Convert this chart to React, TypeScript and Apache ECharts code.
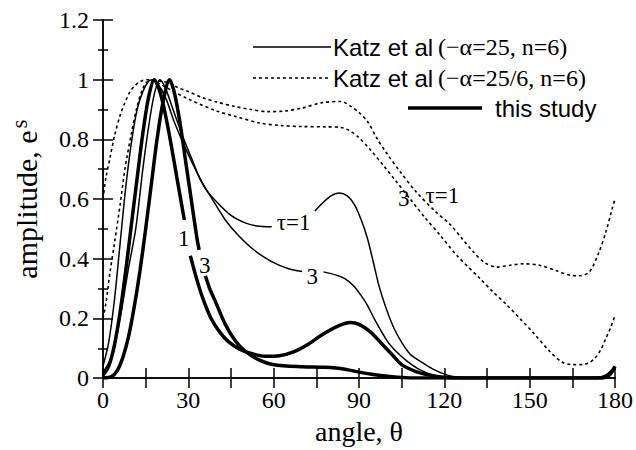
import React, { useEffect, useRef } from 'react';
import * as echarts from 'echarts';

const SERIF = '"Liberation Serif", "Times New Roman", serif';
const SANS = '"Liberation Sans", Arial, sans-serif';

// axis tick labels
const xTickLabels = [0, 30, 60, 90, 120, 150, 180];
const yTickLabels = ['0', '0.2', '0.4', '0.6', '0.8', '1', '1.2'];

// Katz et al (−α=25, n=6), τ=1 (thin solid)
const katzSolidTau1: (number | null)[][] = [
  [0, 0.04], [2, 0.12], [4, 0.26], [6, 0.45], [8, 0.64], [10, 0.79], [12, 0.9], [14, 0.96],
  [16, 0.995], [17.5, 1.0], [19, 0.99], [22, 0.94], [25, 0.86], [29, 0.77], [33, 0.69],
  [36, 0.635], [40, 0.59], [45, 0.545], [50, 0.52], [54, 0.51], [59.3, 0.507], [66, null],
  [74.5, 0.56], [77, 0.585], [80, 0.61], [83, 0.62], [86, 0.61], [88.5, 0.58], [91, 0.525],
  [93, 0.467], [95, 0.39], [97, 0.31], [99.5, 0.235], [102.3, 0.167], [105, 0.12], [108, 0.08],
  [111.6, 0.056], [116, 0.03], [121, 0.01], [126, 0.002], [130, 0], [180, 0],
];

// Katz et al (−α=25, n=6), τ=3 (thin solid)
const katzSolidTau3: (number | null)[][] = [
  [0, 0.02], [3, 0.07], [6, 0.2], [9, 0.37], [11.5, 0.5], [14, 0.7], [16, 0.84], [18, 0.95],
  [20, 1.0], [22, 0.97], [25, 0.89], [28, 0.81], [31, 0.74], [34, 0.67], [38.4, 0.6],
  [43, 0.53], [47.7, 0.477], [53, 0.43], [59.3, 0.39], [65, 0.367], [70, 0.357], [74, null],
  [77.5, 0.356], [82, 0.345], [85, 0.333], [88, 0.31], [90.7, 0.277], [93, 0.243], [95.3, 0.2],
  [100, 0.123], [103, 0.09], [107, 0.056], [111, 0.03], [116, 0.01], [120, 0.003], [125, 0], [180, 0],
];

// Katz et al (−α=25/6, n=6), τ=1 (dotted)
const katzDotTau1: number[][] = [
  [0, 0.6], [1, 0.67], [2.5, 0.74], [4, 0.81], [6, 0.88], [7.6, 0.92], [9.5, 0.96], [11.2, 0.98],
  [13.3, 0.995], [16, 1.0], [20, 0.995], [23, 0.99], [26, 0.975], [30, 0.96], [35, 0.94],
  [40, 0.925], [46.5, 0.91], [52, 0.9], [58, 0.893], [64, 0.895], [70, 0.905], [77, 0.923],
  [83.7, 0.927], [87.2, 0.91], [90, 0.89], [93, 0.86], [96.5, 0.8], [100, 0.75], [104.6, 0.69],
  [110, 0.625], [117, 0.557], [122, 0.515], [126, 0.47], [130, 0.425], [134, 0.388],
  [138.4, 0.372], [143, 0.378], [147.7, 0.383], [153.5, 0.378], [159.4, 0.36], [164, 0.345],
  [167.4, 0.343], [171, 0.356], [174.4, 0.423], [176.8, 0.49], [179, 0.567], [180, 0.6],
];

// Katz et al (−α=25/6, n=6), τ=3 (dotted)
const katzDotTau3: number[][] = [
  [0, 0.2], [1, 0.25], [2.4, 0.35], [4, 0.45], [6, 0.58], [7.7, 0.7], [10, 0.82], [12, 0.91],
  [14, 0.97], [16, 0.995], [18, 0.995], [20, 0.985], [23, 0.97], [30, 0.935], [40, 0.895],
  [46.5, 0.877], [55, 0.855], [63, 0.846], [70, 0.843], [78, 0.842], [83.7, 0.84], [86.5, 0.83],
  [89.5, 0.81], [94, 0.765], [98.8, 0.71], [103, 0.66], [108, 0.6], [113, 0.54], [118.6, 0.478],
  [124.5, 0.41], [132.6, 0.333], [137, 0.29], [142, 0.245], [147, 0.195], [151, 0.155],
  [157, 0.09], [161.5, 0.053], [165, 0.045], [168.5, 0.045], [171, 0.052], [173, 0.067],
  [175, 0.095], [176.8, 0.133], [178.5, 0.17], [180, 0.21],
];

// this study, τ=1 (thick)
const studyTau1: (number | null)[][] = [
  [0, 0.01], [2, 0.04], [4, 0.11], [6, 0.22], [8, 0.36], [9.8, 0.5], [12, 0.67], [14, 0.82],
  [16, 0.94], [18, 1.0], [20, 0.96], [22, 0.88], [24, 0.78], [26, 0.67], [28.6, 0.53], [29.6, null],
  [30.7, 0.41], [33, 0.33], [35, 0.27], [38, 0.2], [41, 0.155], [44, 0.123], [48, 0.097],
  [53, 0.08], [57, 0.073], [62, 0.075], [67, 0.088], [72, 0.113], [77, 0.145], [82, 0.172],
  [87, 0.186], [90, 0.18], [94, 0.155], [98, 0.115], [102, 0.075], [105, 0.045], [110, 0.022],
  [115, 0.01], [120, 0.003], [125, 0], [174, 0], [177, 0.008], [180, 0.035],
];

// this study, τ=3 (thick)
const studyTau3: (number | null)[][] = [
  [0, 0], [3, 0.005], [5, 0.025], [7, 0.07], [9, 0.14], [11, 0.24], [13, 0.36], [15, 0.5],
  [17, 0.65], [19, 0.8], [21, 0.92], [23.4, 1.0], [25, 0.96], [27, 0.86], [29, 0.73], [31, 0.6],
  [33, 0.47], [33.8, 0.43], [35, null], [36, 0.343], [37.5, 0.3], [39.5, 0.257], [43, 0.18],
  [46.5, 0.125], [50, 0.09], [55, 0.06], [60, 0.045], [70, 0.038], [78, 0.036], [85, 0.03],
  [90, 0.02], [95, 0.012], [100, 0.006], [105, 0.002], [110, 0], [175, 0], [178, 0.01], [180, 0.04],
];

// curve labels: [angle, amplitude, text]
const curveLabels: [number, number, string][] = [
  [67, 0.52, 'τ=1'],
  [73.6, 0.34, '3'],
  [105.7, 0.603, '3'],
  [119.3, 0.613, 'τ=1'],
  [28.4, 0.467, '1'],
  [35.8, 0.377, '3'],
];

const legendRows = [
  { sans: 'Katz et al', serif: '(−α=25, n=6)' },
  { sans: 'Katz et al', serif: '(−α=25/6, n=6)' },
  { sans: 'this study', serif: '' },
];

function curve(name: string, data: any[], width: number, type: any) {
  return {
    type: 'line',
    name,
    data,
    xAxisIndex: 0,
    yAxisIndex: 0,
    symbol: 'none',
    showSymbol: false,
    smooth: 0.3,
    connectNulls: false,
    silent: true,
    lineStyle: { color: '#000', width, type, cap: 'butt' },
  };
}

export default function App() {
  const ref = useRef<HTMLDivElement>(null);
  useEffect(() => {
    if (!ref.current) return;
    const chart = echarts.init(ref.current, undefined, { renderer: 'svg' });
    const axisLine = { show: true, lineStyle: { color: '#000', width: 1.5 } };
    const xCommon = {
      type: 'value',
      min: 0,
      max: 180,
      interval: 15,
      axisLine,
      splitLine: { show: false },
      axisTick: { show: true, inside: true, length: 10, lineStyle: { color: '#000', width: 1.5 } },
    };
    const yCommon = {
      type: 'value',
      min: 0,
      max: 1.2,
      interval: 0.2,
      axisLine,
      splitLine: { show: false },
      axisTick: { show: true, inside: true, length: 10, lineStyle: { color: '#000', width: 1.5 } },
      minorTick: { show: true, splitNumber: 2, length: 5, lineStyle: { color: '#000', width: 1.5 } },
      minorSplitLine: { show: false },
    };
    const dash = [3, 3];
    const legendX0 = 253;
    const richLegend = {
      s: { fontFamily: SANS, fontSize: 24, fill: '#000' },
      r: { fontFamily: SERIF, fontSize: 24, fill: '#000', padding: [0, 0, 0, 5] },
    };
    const graphic: any[] = [
      { type: 'line', shape: { x1: legendX0, y1: 47, x2: 331, y2: 47 }, style: { stroke: '#000', lineWidth: 1.5 } },
      { type: 'line', shape: { x1: legendX0, y1: 78, x2: 331, y2: 78 }, style: { stroke: '#000', lineWidth: 1.5, lineDash: dash } },
      { type: 'line', shape: { x1: 408, y1: 108, x2: 482, y2: 108 }, style: { stroke: '#000', lineWidth: 3.5 } },
      {
        type: 'text', x: 333, y: 47,
        style: { text: `{s|${legendRows[0].sans}}{r|${legendRows[0].serif}}`, verticalAlign: 'middle', rich: richLegend },
      },
      {
        type: 'text', x: 333, y: 78,
        style: { text: `{s|${legendRows[1].sans}}{r|${legendRows[1].serif}}`, verticalAlign: 'middle', rich: richLegend },
      },
      {
        type: 'text', x: 495, y: 108,
        style: { text: legendRows[2].sans, fontFamily: SANS, fontSize: 24, fill: '#000', verticalAlign: 'middle' },
      },
    ];
    chart.setOption({
      animation: false,
      backgroundColor: '#fff',
      grid: { left: 100, right: 20, top: 20, bottom: 70, containLabel: false },
      xAxis: [
        {
          ...xCommon,
          position: 'bottom',
          name: 'angle, θ',
          nameLocation: 'middle',
          nameGap: 35,
          nameTextStyle: { fontFamily: SERIF, fontSize: 28, color: '#000' },
          axisLabel: {
            show: true,
            margin: 10,
            fontFamily: SERIF,
            fontSize: 24,
            color: '#000',
            formatter: (v: number) => (xTickLabels.includes(v) ? String(v) : ''),
          },
        },
        { ...xCommon, position: 'top', axisLabel: { show: false } },
      ],
      yAxis: [
        {
          ...yCommon,
          position: 'left',
          name: '{a|amplitude, e}{b|s}',
          nameLocation: 'middle',
          nameGap: 58,
          nameTextStyle: {
            fontFamily: SERIF,
            fontSize: 30,
            color: '#000',
            rich: {
              a: { fontFamily: SERIF, fontSize: 30, color: '#000' },
              b: { fontFamily: SERIF, fontSize: 23, color: '#000', padding: [0, 0, 14, 2] },
            },
          },
          axisLabel: {
            show: true,
            margin: 14,
            fontFamily: SERIF,
            fontSize: 24,
            color: '#000',
            formatter: (v: number) => yTickLabels[Math.round(v / 0.2)] ?? '',
          },
        },
        { ...yCommon, position: 'right', axisLabel: { show: false } },
      ],
      series: [
        curve('Katz τ=1', katzSolidTau1, 1.5, 'solid'),
        curve('Katz τ=3', katzSolidTau3, 1.5, 'solid'),
        curve('Katz25/6 τ=1', katzDotTau1, 1.6, dash),
        curve('Katz25/6 τ=3', katzDotTau3, 1.6, dash),
        curve('study τ=1', studyTau1, 3.5, 'solid'),
        curve('study τ=3', studyTau3, 3.5, 'solid'),
        {
          type: 'scatter',
          name: 'labels',
          xAxisIndex: 0,
          yAxisIndex: 0,
          symbolSize: 0,
          silent: true,
          z: 10,
          itemStyle: { color: '#000', opacity: 1 },
          data: curveLabels.map(([x, y, t]) => ({ value: [x, y], name: t })),
          label: {
            show: true,
            position: 'inside',
            formatter: (p: any) => p.name,
            fontFamily: SERIF,
            fontSize: 23,
            color: '#000',
            opacity: 1,
            textBorderWidth: 0,
            textBorderColor: 'transparent',
          },
        },
      ],
      graphic,
    });
    return () => chart.dispose();
  }, []);
  return <div ref={ref} style={{ position: 'fixed', left: 0, top: 0, width: 636, height: 450 }} />;
}
